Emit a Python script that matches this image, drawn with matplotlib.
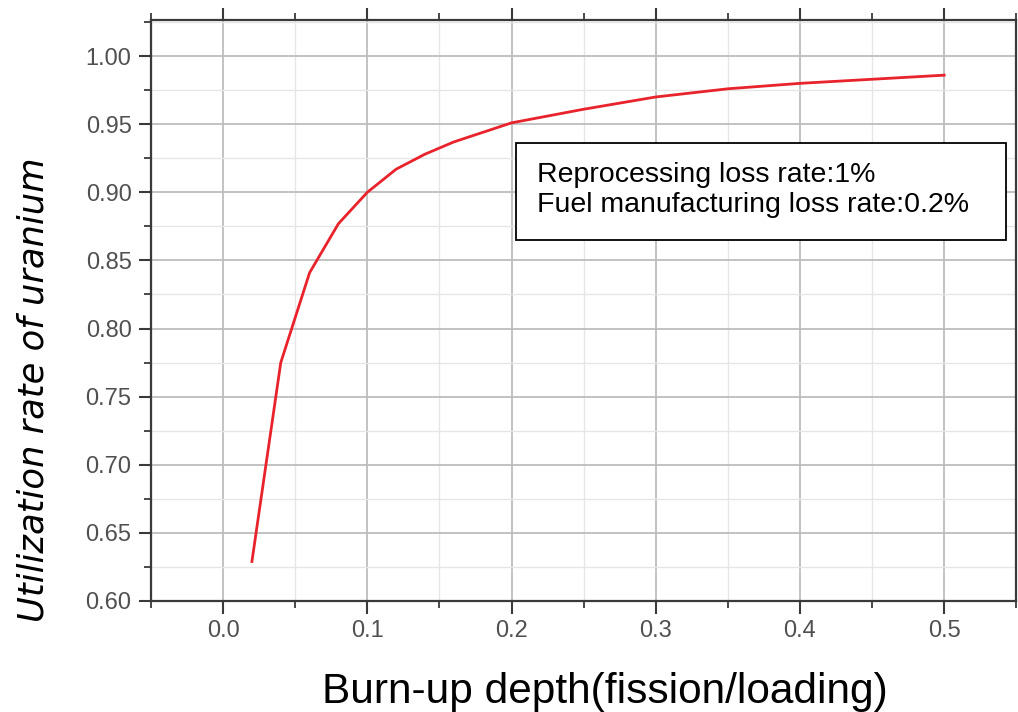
import matplotlib
matplotlib.use("Agg")
import matplotlib.pyplot as plt
from matplotlib.ticker import MultipleLocator, FormatStrFormatter
from matplotlib.patches import Rectangle

burnup = [0.02, 0.04, 0.06, 0.08, 0.10, 0.12, 0.14, 0.16, 0.18, 0.20,
          0.25, 0.30, 0.35, 0.40, 0.45, 0.50]
utilization = [0.629, 0.775, 0.841, 0.877, 0.900, 0.917, 0.928, 0.937, 0.944, 0.951,
               0.961, 0.970, 0.976, 0.980, 0.983, 0.986]
xticks = [0.0, 0.1, 0.2, 0.3, 0.4, 0.5]
yticks = [0.60, 0.65, 0.70, 0.75, 0.80, 0.85, 0.90, 0.95, 1.00]
note_lines = ["Reprocessing loss rate:1%", "Fuel manufacturing loss rate:0.2%"]

plt.rcParams['font.family'] = ['Liberation Sans', 'DejaVu Sans']

W, H = 1018, 712
fig = plt.figure(figsize=(W / 100, H / 100), dpi=100)
ax = fig.add_axes([0.1483, 0.1559, 0.850, 0.816])

ax.plot(burnup, utilization, color='#e8232b', lw=2.0, zorder=3)

ax.set_xlim(-0.05, 0.55)
ax.set_ylim(0.60, 1.0265)
ax.set_xticks(xticks)
ax.set_yticks(yticks)
ax.xaxis.set_minor_locator(MultipleLocator(0.05))
ax.yaxis.set_minor_locator(MultipleLocator(0.025))
ax.xaxis.set_major_formatter(FormatStrFormatter('%.1f'))
ax.yaxis.set_major_formatter(FormatStrFormatter('%.2f'))

ax.grid(which='major', color='#bdbdbd', lw=1.3)
ax.grid(which='minor', color='#e6e6e6', lw=1.0)
ax.set_axisbelow(True)

for s in ['left', 'bottom', 'top', 'right']:
    ax.spines[s].set_color('#3a3a3a')
    ax.spines[s].set_linewidth(1.6)

ax.tick_params(which='major', direction='out', length=9, width=1.5, color='#3a3a3a',
               labelsize=17, labelcolor='#505050', top=True, right=False, pad=5)
ax.tick_params(which='minor', direction='out', length=5, width=1.3, color='#3a3a3a',
               top=True, right=False)

fig.text(604.5 / W, 1 - 692 / H, "Burn-up depth(fission/loading)", fontsize=30.5,
         color='black', ha='center', va='center')
fig.text(34 / W, 1 - 390 / H, "Utilization rate of uranium", fontsize=25.5,
         fontstyle='italic', family=['DejaVu Sans'], rotation=90,
         ha='center', va='center')

# annotation box
x0, x1 = (516 - 151) / 866, (1007 - 151) / 866
y0, y1 = (601 - 240) / 581, (601 - 143) / 581
ax.add_patch(Rectangle((x0, y0), x1 - x0, y1 - y0, transform=ax.transAxes,
                       fc='white', ec='black', lw=1.3, zorder=5))
ax.text((537 - 151) / 866, (601 - 190) / 581, "\n".join(note_lines),
        transform=ax.transAxes, fontsize=20.5, va='center', ha='left',
        linespacing=1.2, zorder=6)

fig.savefig("out.png", dpi=100)
